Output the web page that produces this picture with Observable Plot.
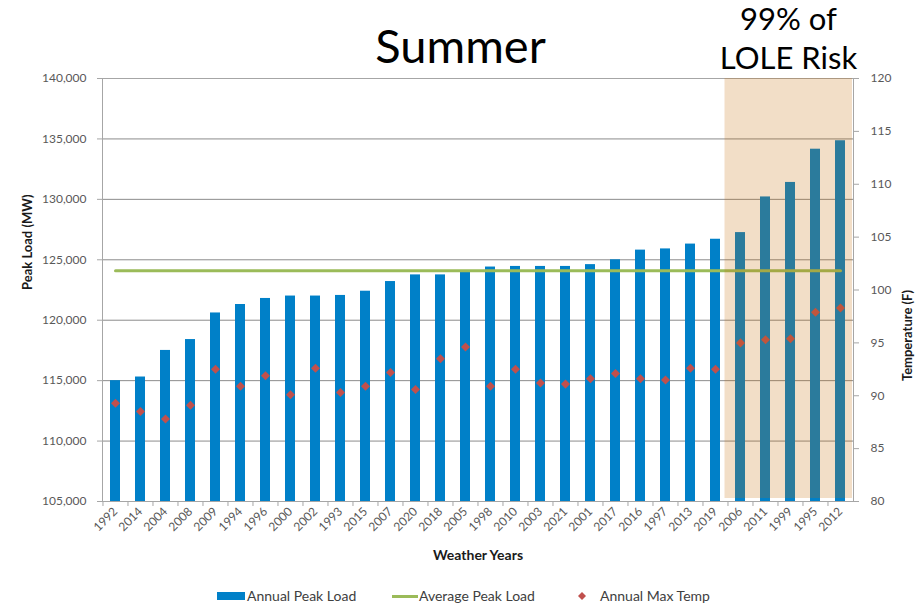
<!DOCTYPE html>
<html><head><meta charset="utf-8">
<script src="https://cdn.jsdelivr.net/npm/d3@7"></script>
<script src="https://cdn.jsdelivr.net/npm/@observablehq/plot@0.6"></script>
<style>
body{margin:0;background:#fff;font-family:Lato,sans-serif;}
#wrap{position:relative;width:922px;height:605px;overflow:hidden;}
#chart{position:absolute;left:0;top:0;}
.lg{position:absolute;font-family:Lato,sans-serif;font-size:14px;color:#404040;white-space:nowrap;line-height:16px;}
</style></head><body>
<div id="wrap"><div id="chart"></div><div id="legend"></div></div>
<script>
// ---- data ----
const weatherYears = ["1992","2014","2004","2008","2009","1994","1996","2000","2002","1993","2015","2007","2020","2018","2005","1998","2010","2003","2021","2001","2017","2016","1997","2013","2019","2006","2011","1999","1995","2012"];
const annualPeakLoad = [115000,115300,117500,118400,120600,121300,121800,122000,122000,122050,122400,123200,123750,123750,124000,124400,124450,124450,124450,124600,125000,125800,125900,126300,126700,127250,130200,131400,134150,134850];
const annualMaxTemp = [89.3,88.5,87.8,89.1,92.5,90.9,91.9,90.1,92.6,90.3,90.9,92.2,90.6,93.5,94.6,90.9,92.5,91.2,91.1,91.6,92.1,91.6,91.5,92.6,92.5,95.0,95.3,95.4,97.9,98.3];
const averagePeakLoad = 124100;
const loadTicks = [105000,110000,115000,120000,125000,130000,135000,140000];
const tempTicks = [80,85,90,95,100,105,110,115,120];
const lolyYears = ["2006","2011","1999","1995","2012"];
const seriesNames = ["Annual Peak Load","Average Peak Load","Annual Max Temp"];
const titleText = "Summer";
const riskText = "99% of\nLOLE Risk";

// ---- secondary (temperature) axis mapped onto load scale ----
const loadDomain = [105000, 140000], tempDomain = [80, 120];
const toLoad = t => loadDomain[0] + (t - tempDomain[0]) * (loadDomain[1]-loadDomain[0])/(tempDomain[1]-tempDomain[0]);
const fromLoad = v => tempDomain[0] + (v - loadDomain[0]) * (tempDomain[1]-tempDomain[0])/(loadDomain[1]-loadDomain[0]);

const rows = weatherYears.map((y,i)=>({year:y, load:annualPeakLoad[i], temp:annualMaxTemp[i], avg:averagePeakLoad}));

const W = 922, H = 570, mL = 102, mR = 69, mT = 78, mB = 69;
const step = (W - mL - mR) / weatherYears.length;

const diamond = {draw(ctx, size){ const r = Math.sqrt(size/2); ctx.moveTo(0,-r); ctx.lineTo(r,0); ctx.lineTo(0,r); ctx.lineTo(-r,0); ctx.closePath(); }};

const shade = (index, scales, values, dims) => {
  const s = (dims.width - dims.marginLeft - dims.marginRight) / weatherYears.length;
  const x0 = scales.x(lolyYears[0]) - 0.3*s - 3;
  const x1 = dims.width - dims.marginRight - 1;
  const y0 = scales.y(loadDomain[1]);
  const y1 = scales.y(loadDomain[0]) - 3;
  return d3.create("svg:rect").attr("x", x0).attr("y", y0).attr("width", x1-x0).attr("height", y1-y0)
    .attr("fill", "#C26A00").attr("fill-opacity", 0.22).node();
};

const chart = Plot.plot({
  width: W, height: H,
  marginLeft: mL, marginRight: mR, marginTop: mT, marginBottom: mB,
  style: {fontFamily: "Lato, sans-serif", fontSize: "12px", color: "#595959", background: "white", overflow: "visible"},
  x: {type: "band", domain: weatherYears, paddingInner: 0.6, paddingOuter: 0.3, align: 0.5},
  y: {domain: loadDomain},
  marks: [
    Plot.ruleY(loadTicks, {stroke: "#8C8C8C", strokeWidth: 1}),
    Plot.frame({stroke: "#A6A6A6"}),
    Plot.barY(rows, {x: "year", y1: loadDomain[0], y2: "load", fill: "#0080C8"}),
    Plot.lineY(rows, {x: "year", y: "avg", stroke: "#9BBB59", strokeWidth: 3}),
    Plot.dot(rows, {x: "year", y: d => toLoad(d.temp), symbol: diamond, r: 3.6, fill: "#C0504D", stroke: "none"}),
    shade,
    Plot.axisY(loadTicks, {anchor: "left", tickFormat: d3.format(","), tickSize: 5, tickPadding: 11, fill: "#595959", stroke: "#A6A6A6", label: null}),
    Plot.axisY(tempTicks.map(toLoad), {anchor: "right", tickFormat: v => String(Math.round(fromLoad(v))), tickSize: 5, tickPadding: 12, fill: "#595959", stroke: "#A6A6A6", label: null}),
    Plot.axisX({anchor: "bottom", tickSize: 0, tickPadding: 8, tickRotate: -45, fill: "#595959", label: null}),
    Plot.axisX({anchor: "bottom", tickSize: 5, tickFormat: () => "", dx: -step/2, stroke: "#A6A6A6", label: null}),
    Plot.text(["Peak Load (MW)"], {frameAnchor: "left", dx: -75, rotate: -90, fontSize: 13, fontWeight: "bold", fill: "#1a1a1a"}),
    Plot.text(["Temperature (F)"], {frameAnchor: "right", dx: 54, rotate: -90, fontSize: 13, fontWeight: "bold", fill: "#1a1a1a"}),
    Plot.text(["Weather Years"], {frameAnchor: "bottom", dx: 0, dy: 58, fontSize: 14, fontWeight: "bold", fill: "#1a1a1a"}),
    Plot.text([titleText], {frameAnchor: "top-left", dx: 460 - mL, dy: -16, lineAnchor: "bottom", textAnchor: "middle", fontSize: 47, fill: "#000"}),
    Plot.text([riskText], {frameAnchor: "top-left", dx: 788 - mL, dy: -10, lineAnchor: "bottom", textAnchor: "middle", fontSize: 31, lineHeight: 1.23, fill: "#000"})
  ]
});
document.getElementById("chart").appendChild(chart);

// ---- legend ----
const lg = document.getElementById("legend");
lg.innerHTML = `
<div class="lg" style="left:217px;top:592px;width:28px;height:8px;background:#0080C8"></div>
<div class="lg" style="left:247px;top:588px">${seriesNames[0]}</div>
<div class="lg" style="left:392px;top:595px;width:26px;height:3px;background:#9BBB59"></div>
<div class="lg" style="left:419px;top:588px">${seriesNames[1]}</div>
<svg class="lg" style="left:577px;top:591px" width="10" height="10"><path d="M5,1L9,5L5,9L1,5Z" fill="#C0504D"/></svg>
<div class="lg" style="left:600px;top:588px">${seriesNames[2]}</div>`;
</script>
</body></html>
